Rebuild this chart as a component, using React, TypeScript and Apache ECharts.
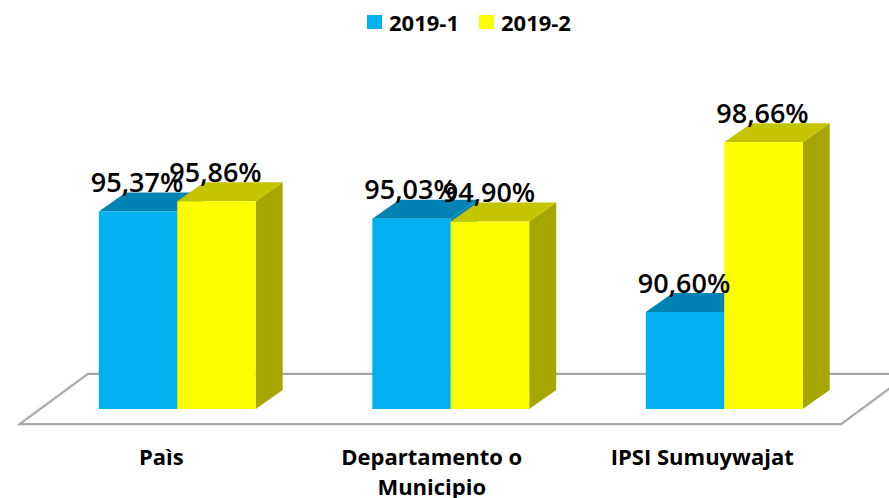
import React, { useEffect, useRef } from "react";
import * as echarts from "echarts";

const categories = ["Pa\u00ecs", "Departamento o\nMunicipio", "IPSI Sumuywajat"];
const seriesNames = ["2019-1", "2019-2"];
const values2019_1 = [95.37, 95.03, 90.6];
const values2019_2 = [95.86, 94.9, 98.66];

const FONT = "'Open Sans', sans-serif";
const DEPTH_X = 27;
const DEPTH_Y = 19;
const BAR_RATIO = 78.5 / 273.7;

const fmt = (v: number) => v.toFixed(2).replace(".", ",") + "%";

function barRenderer(side: -1 | 1, front: string, top: string, dark: string) {
  return (params: any, api: any) => {
    const v = api.value(1);
    const p = api.coord([api.value(0), v]);
    const base = api.coord([api.value(0), 86]);
    const w = api.size([1, 0])[0] * BAR_RATIO;
    const x0 = side < 0 ? p[0] - w : p[0];
    const x1 = x0 + w;
    const y = p[1];
    const b = base[1];
    return {
      type: "group",
      children: [
        {
          type: "polygon",
          shape: { points: [[x1, y], [x1 + DEPTH_X, y - DEPTH_Y], [x1 + DEPTH_X, b - DEPTH_Y], [x1, b]] },
          style: { fill: dark },
        },
        {
          type: "polygon",
          shape: { points: [[x0, y], [x0 + DEPTH_X, y - DEPTH_Y], [x1 + DEPTH_X, y - DEPTH_Y], [x1, y]] },
          style: { fill: top },
        },
        { type: "rect", shape: { x: x0, y, width: w, height: b - y }, style: { fill: front } },
        {
          type: "text",
          z2: 100,
          style: {
            x: (x0 + x1) / 2 - 1,
            y: y - 30,
            text: fmt(v),
            fill: "#000000",
            font: `600 27px ${FONT}`,
            align: "center",
            verticalAlign: "middle",
          },
        },
      ],
    };
  };
}

export default function App() {
  const ref = useRef<HTMLDivElement>(null);
  useEffect(() => {
    const chart = echarts.init(ref.current!, undefined, { renderer: "svg" });
    chart.setOption({
      animation: false,
      backgroundColor: "#ffffff",
      legend: {
        left: 362,
        top: 6,
        itemWidth: 15,
        itemHeight: 14,
        itemGap: 20,
        icon: "rect",
        data: seriesNames,
        textStyle: { fontFamily: FONT, fontWeight: 700, fontSize: 22, color: "#000000", padding: [0, 0, 0, 2] },
      },
      graphic: [
        {
          type: "polygon",
          silent: true,
          z: 0,
          shape: { points: [[20, 424], [841, 424], [909, 374], [88, 374]] },
          style: {
            fill: "#ffffff",
            stroke: "#a6a6a6",
            lineWidth: 2,
            shadowBlur: 2,
            shadowColor: "rgba(0,0,0,0.25)",
          },
        },
      ],
      grid: [
        { left: 40.5, top: 114, width: 820.5, height: 295, outerBoundsMode: "none" },
        { left: 26, top: 114, width: 811.5, height: 310, outerBoundsMode: "none" },
      ],
      xAxis: [
        {
          type: "category",
          gridIndex: 0,
          data: categories,
          axisLine: { show: false },
          axisTick: { show: false },
          axisLabel: { show: false },
        },
        {
          type: "category",
          gridIndex: 1,
          data: categories,
          axisLine: { show: false },
          axisTick: { show: false },
          axisLabel: {
            interval: 0,
            margin: 17,
            color: "#000000",
            fontFamily: FONT,
            fontWeight: 700,
            fontSize: 22,
            lineHeight: 30,
          },
        },
      ],
      yAxis: [
        { type: "value", gridIndex: 0, min: 86, max: 100, show: false },
        { type: "value", gridIndex: 1, min: 0, max: 1, show: false },
      ],
      series: [
        {
          type: "custom",
          name: seriesNames[0],
          xAxisIndex: 0,
          yAxisIndex: 0,
          itemStyle: { color: "#00b0f0" },
          encode: { x: 0, y: 1 },
          data: values2019_1.map((v, i) => [i, v]),
          renderItem: barRenderer(-1, "#00b0f0", "#0083b3", "#0083b3"),
        },
        {
          type: "custom",
          name: seriesNames[1],
          xAxisIndex: 0,
          yAxisIndex: 0,
          itemStyle: { color: "#ffff00" },
          encode: { x: 0, y: 1 },
          data: values2019_2.map((v, i) => [i, v]),
          renderItem: barRenderer(1, "#ffff00", "#c4c400", "#a6a600"),
        },
      ],
    });
    return () => chart.dispose();
  }, []);
  return <div ref={ref} style={{ position: "fixed", left: 0, top: 0, width: 889, height: 498 }} />;
}
